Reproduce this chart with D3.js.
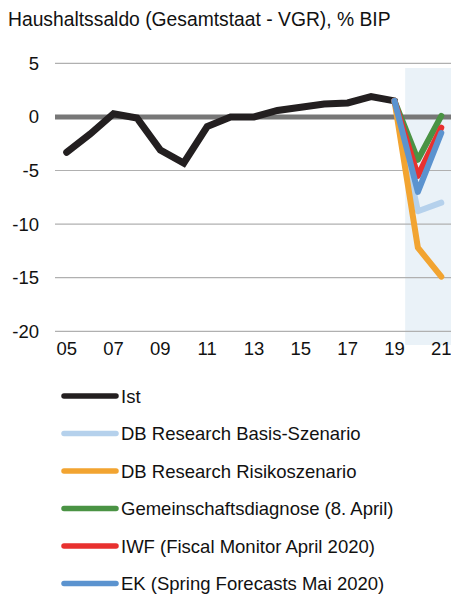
<!DOCTYPE html>
<html><head><meta charset="utf-8">
<script src="https://cdn.jsdelivr.net/npm/d3@7/dist/d3.min.js"></script>
<style>body{margin:0;background:#fff}svg{display:block}text{font-family:"Liberation Sans",Arial,sans-serif;fill:#111}</style>
</head><body><svg id="c" width="451" height="595"></svg>
<script>
const years = [2005,2006,2007,2008,2009,2010,2011,2012,2013,2014,2015,2016,2017,2018,2019,2020,2021];
const xTickLabels = ["05","07","09","11","13","15","17","19","21"];
const yTicks = [5,0,-5,-10,-15,-20];
const istYears = [2005,2006,2007,2008,2009,2010,2011,2012,2013,2014,2015,2016,2017,2018,2019];
const istValues = [-3.3,-1.6,0.3,-0.1,-3.1,-4.3,-0.9,0.0,0.0,0.6,0.9,1.2,1.3,1.9,1.5];
const fcYears = [2019,2020,2021];
const dbBasis = [1.5,-8.8,-8.0];
const dbRisiko = [1.5,-12.2,-14.9];
const gemeinschaft = [1.5,-4.0,0.1];
const iwf = [1.5,-5.5,-1.0];
const ek = [1.5,-7.0,-1.5];
const seriesNames = ["Ist","DB Research Basis-Szenario","DB Research Risikoszenario","Gemeinschaftsdiagnose (8. April)","IWF (Fiscal Monitor April 2020)","EK (Spring Forecasts Mai 2020)"];
const seriesColors = ["#231f20","#b5d1ec","#f2a431","#4a9344","#e8312f","#5b93cf"];
const forecastStart = 2020;

const svg = d3.select("#c");
const x = d3.scaleBand().domain(years).range([55,453]);
const xc = d => x(d) + x.bandwidth()/2;
const y = d3.scaleLinear().domain([-20,5]).range([331.3,63.3]);

svg.append("text").attr("x",8).attr("y",26).style("font-size","19.3px").text("Haushaltssaldo (Gesamtstaat - VGR), % BIP");

// shaded forecast area
svg.append("rect").attr("x",x(forecastStart)-1).attr("y",68).attr("width",453-x(forecastStart)).attr("height",277)
  .attr("fill","#eaf2f8");

// grid
svg.append("g").selectAll("line").data(yTicks.filter(d=>d!==0)).join("line")
  .attr("x1",55).attr("x2",451).attr("y1",d=>y(d)).attr("y2",d=>y(d))
  .attr("stroke","#b0b0b0").attr("stroke-width",1.2);

// y labels
const yAxis = d3.axisLeft(y).tickValues(yTicks).tickFormat(d=>String(d)).tickSize(0).tickPadding(0);
const gy = svg.append("g").attr("transform","translate(39,0)").call(yAxis);
gy.select(".domain").remove();
gy.selectAll("text").style("font-size","18.5px").style("font-family","'Liberation Sans',Arial,sans-serif").attr("fill","#111");

// x labels
const xAxis = d3.axisBottom(x).tickValues(years.filter(d=>(d-2005)%2===0)).tickFormat(d=>xTickLabels[(d-2005)/2]).tickSize(0).tickPadding(0);
const gx = svg.append("g").attr("transform","translate(0,342)").call(xAxis);
gx.select(".domain").remove();
gx.selectAll("text").style("font-size","18.5px").style("font-family","'Liberation Sans',Arial,sans-serif").attr("fill","#111");

// zero line
svg.append("line").attr("x1",55).attr("x2",451).attr("y1",y(0)).attr("y2",y(0))
  .attr("stroke","#777777").attr("stroke-width",5);

const line = d3.line().x(d=>xc(d[0])).y(d=>y(d[1]));
svg.append("path").attr("d",line(istYears.map((yr,j)=>[yr,istValues[j]])))
  .attr("fill","none").attr("stroke",seriesColors[0]).attr("stroke-width",7)
  .attr("stroke-linejoin","miter").attr("stroke-linecap","round");
const fcSeries = [dbBasis, dbRisiko, gemeinschaft, iwf, ek];
fcSeries.forEach((s,i)=>{
  svg.append("path").attr("d",line(fcYears.map((yr,j)=>[yr,s[j]])))
    .attr("fill","none").attr("stroke",seriesColors[i+1]).attr("stroke-width",6)
    .attr("stroke-linejoin","round").attr("stroke-linecap","round");
});

// legend
const lg = svg.append("g").selectAll("g").data(seriesNames).join("g")
  .attr("transform",(d,i)=>`translate(0,${396+i*37.5})`);
lg.append("line").attr("x1",64).attr("x2",116).attr("y1",0).attr("y2",0)
  .attr("stroke",(d,i)=>seriesColors[i]).attr("stroke-width",5.5).attr("stroke-linecap","round");
lg.append("text").attr("x",121).attr("y",6.5).style("font-size","18.5px").text(d=>d);
</script></body></html>
